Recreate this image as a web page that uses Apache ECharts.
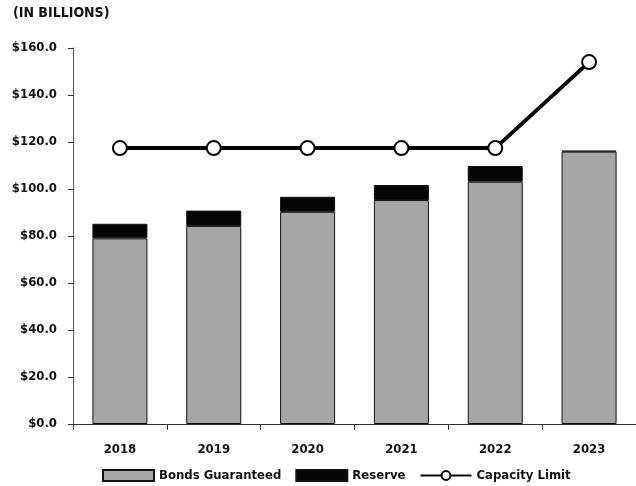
<!DOCTYPE html>
<html><head><meta charset="utf-8">
<script src="https://cdn.jsdelivr.net/npm/echarts@6/dist/echarts.min.js"></script>
<style>html,body{margin:0;padding:0;background:#fff}#c{width:636px;height:486px}</style>
</head><body><div id="c"></div>
<script>
var categories = ['2018','2019','2020','2021','2022','2023'];
var bondsGuaranteed = [79.0, 84.3, 90.3, 95.3, 103.1, 115.9];
var reserve = [6.2, 6.5, 6.4, 6.4, 6.7, 0.4];
var capacityLimit = [117.4, 117.4, 117.4, 117.4, 117.4, 154.0];
var yTicks = [0, 20, 40, 60, 80, 100, 120, 140, 160];

var FONT = '"DejaVu Sans Condensed", "DejaVu Sans", sans-serif';
var chart = echarts.init(document.getElementById('c'), null, {renderer: 'canvas'});
chart.setOption({
  animation: false,
  title: {text: '(IN BILLIONS)', left: 13, top: 6, padding: 0,
    textStyle: {fontFamily: FONT, fontSize: 14, fontWeight: 'bold', color: '#111'}},
  grid: {left: 73, right: 0, top: 48, bottom: 62, containLabel: false},
  legend: {
    bottom: 4, left: 102, padding: 0, itemGap: 14, itemWidth: 51, itemHeight: 11,
    textStyle: {fontFamily: FONT, fontSize: 13, fontWeight: 'bold', color: '#111'},
    data: [
      {name: 'Bonds Guaranteed', icon: 'rect'},
      {name: 'Reserve', icon: 'rect'},
      {name: 'Capacity Limit'}
    ]
  },
  xAxis: {
    type: 'category', data: categories, boundaryGap: true,
    axisLine: {lineStyle: {color: '#333', width: 1}},
    axisTick: {show: true, length: 6, lineStyle: {color: '#333'}},
    axisLabel: {fontFamily: FONT, fontSize: 13, fontWeight: 'bold', color: '#111', margin: 19}
  },
  yAxis: {
    type: 'value', min: yTicks[0], max: yTicks[yTicks.length-1], interval: 20,
    axisLine: {show: true, lineStyle: {color: '#555', width: 1}},
    axisTick: {show: true, length: 5, lineStyle: {color: '#333'}},
    splitLine: {show: false},
    axisLabel: {fontFamily: FONT, fontSize: 13, fontWeight: 'bold', color: '#111', margin: 16,
      formatter: function(v){ return '$' + v.toFixed(1); }}
  },
  series: [
    {name: 'Bonds Guaranteed', type: 'bar', stack: 'a', data: bondsGuaranteed, barWidth: 55,
      itemStyle: {color: '#a6a6a6', borderColor: '#111', borderWidth: 1}},
    {name: 'Reserve', type: 'bar', stack: 'a', data: reserve, barWidth: 55,
      itemStyle: {color: '#050505', borderColor: '#111', borderWidth: 1}},
    {name: 'Capacity Limit', type: 'line', data: capacityLimit,
      symbol: 'circle', symbolSize: 14,
      lineStyle: {color: '#050505', width: 4},
      itemStyle: {color: '#fff', borderColor: '#050505', borderWidth: 2}}
  ]
});
</script></body></html>
